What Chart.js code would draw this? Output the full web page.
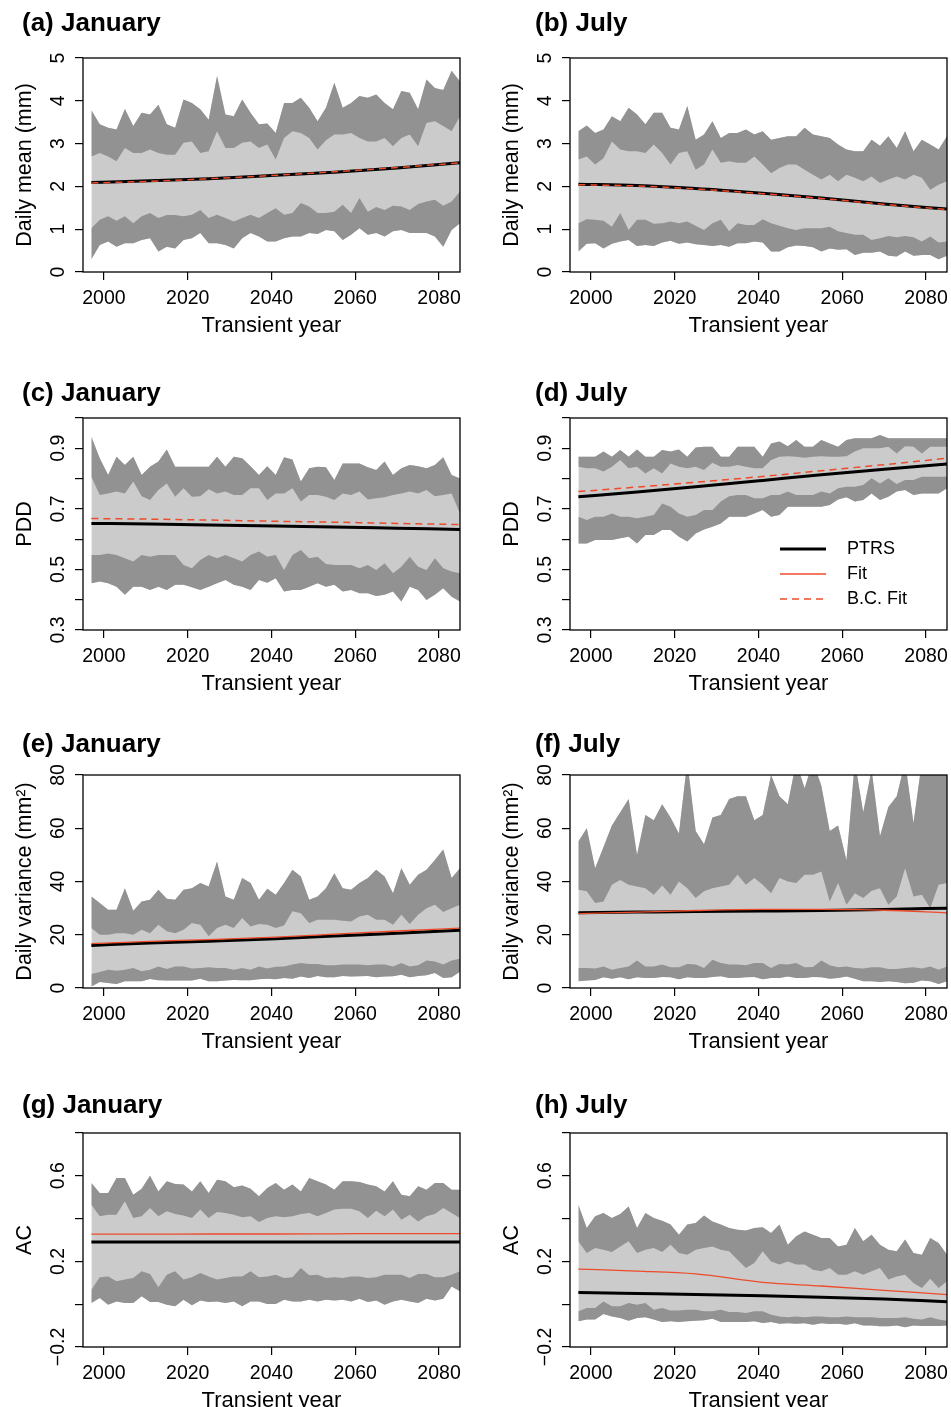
<!DOCTYPE html>
<html lang="en">
<head>
<meta charset="utf-8">
<title>PTRS transient statistics</title>
<script src="https://cdn.jsdelivr.net/npm/chart.js@4.4.1/dist/chart.umd.min.js"></script>
<style>
  html, body { margin: 0; padding: 0; background: #fff; overflow: hidden; }
  #figure { position: relative; width: 951px; height: 1407px; }
  .panel { position: absolute; }
</style>
</head>
<body>
<div id="figure"></div>
<script>
// --- DATA ---
// band years (every second year) and the smooth-line years
const years = [1997, 1999, 2001, 2003, 2005, 2007, 2009, 2011, 2013, 2015, 2017, 2019, 2021, 2023, 2025,
    2027, 2029, 2031, 2033, 2035, 2037, 2039, 2041, 2043, 2045, 2047, 2049, 2051, 2053, 2055,
    2057, 2059, 2061, 2063, 2065, 2067, 2069, 2071, 2073, 2075, 2077, 2079, 2081, 2083, 2085];
const lineYears = [1997, 2011, 2025, 2041, 2055, 2070, 2085];
const xTicks = [2000, 2020, 2040, 2060, 2080];

// y ticks (an empty label = tick mark without text)
const meanTicks = [0, 1, 2, 3, 4, 5];
const meanTickLabels = ['0', '1', '2', '3', '4', '5'];
const pddTicks = [0.3, 0.4, 0.5, 0.6, 0.7, 0.8, 0.9, 1.0];
const pddTickLabels = ['0.3', '', '0.5', '', '0.7', '', '0.9', ''];
const varTicks = [0, 20, 40, 60, 80];
const varTickLabels = ['0', '20', '40', '60', '80'];
const acTicks = [-0.2, 0, 0.2, 0.4, 0.6, 0.8];
const acTickLabels = ['\u22120.2', '', '0.2', '', '0.6', ''];

const legendLabels = ['PTRS', 'Fit', 'B.C. Fit'];

// (a) daily mean, January : upper band top/bottom, lower band top/bottom
const meanJanUpHi = [3.78,3.45,3.37,3.33,3.81,3.41,3.72,3.68,3.91,3.45,3.37,4.03,3.95,3.80,3.56,4.58,3.68,3.64,4.03,3.72,3.45,3.47,3.25,3.95,3.95,4.07,3.84,3.52,3.84,4.42,3.84,3.95,4.11,4.07,4.15,3.95,3.80,4.23,4.19,3.80,4.50,4.30,4.25,4.70,4.45];
const meanJanUpLo = [2.70,2.78,2.70,2.59,2.90,2.78,2.78,2.86,2.78,2.74,2.74,3.02,3.05,2.78,2.82,3.29,2.90,2.90,3.02,3.05,2.90,2.98,2.63,3.13,3.29,3.25,3.13,2.86,3.08,3.21,3.21,3.25,3.13,3.05,3.05,3.13,2.94,3.13,3.21,2.94,3.48,3.52,3.41,3.29,3.64];
const meanJanLoHi = [1.02,1.22,1.30,1.20,1.30,1.14,1.30,1.38,1.26,1.33,1.33,1.30,1.34,1.45,1.26,1.34,1.26,1.18,1.26,1.34,1.26,1.38,1.49,1.34,1.38,1.61,1.53,1.38,1.38,1.41,1.57,1.38,1.73,1.41,1.52,1.45,1.55,1.53,1.45,1.59,1.65,1.69,1.55,1.65,1.88];
const meanJanLoLo = [0.30,0.63,0.71,0.59,0.67,0.67,0.75,0.79,0.48,0.59,0.55,0.75,0.79,0.91,0.67,0.67,0.63,0.55,0.79,0.91,0.83,0.71,0.71,0.79,0.83,0.83,0.91,0.89,0.98,0.95,0.75,0.87,1.02,0.87,0.91,0.83,0.95,0.98,0.91,0.91,0.91,0.83,0.59,0.98,1.14];
const meanJanPtrs = [2.09, 2.13, 2.18, 2.26, 2.33, 2.43, 2.55];
const meanJanBcFit = [2.08, 2.12, 2.18, 2.26, 2.34, 2.44, 2.55];

// (b) daily mean, July
const meanJulUpHi = [3.29,3.42,3.25,3.33,3.64,3.52,3.84,3.68,3.45,3.72,3.72,3.37,3.33,3.88,3.09,3.21,3.52,3.13,3.25,3.25,3.33,3.21,3.29,3.09,3.13,3.17,3.17,3.37,3.21,3.17,3.13,2.98,2.86,2.82,2.82,3.09,2.95,3.17,2.90,3.29,2.82,3.09,2.98,2.86,3.17];
const meanJulUpLo = [2.63,2.70,2.51,2.66,3.05,2.86,2.82,2.82,2.78,2.98,2.78,2.51,2.78,2.82,2.39,2.51,2.86,2.55,2.59,2.55,2.55,2.70,2.51,2.31,2.43,2.51,2.51,2.39,2.27,2.16,2.27,2.12,2.27,2.20,2.12,2.23,2.08,2.16,2.23,2.16,2.27,2.20,1.92,2.04,2.12];
const meanJulLoHi = [1.14,1.23,1.22,1.20,1.06,1.38,0.98,1.22,1.22,1.13,1.14,1.18,1.14,1.18,1.08,0.98,1.14,1.22,0.95,1.14,1.10,1.10,1.23,1.14,1.08,1.02,0.98,1.02,1.02,1.02,1.06,0.95,0.91,0.87,0.87,0.75,0.79,0.84,0.81,0.84,0.81,0.71,0.83,0.69,0.71];
const meanJulLoLo = [0.48,0.66,0.67,0.55,0.66,0.71,0.75,0.61,0.63,0.61,0.69,0.73,0.66,0.69,0.65,0.63,0.61,0.63,0.59,0.67,0.67,0.71,0.69,0.48,0.48,0.58,0.62,0.61,0.58,0.48,0.55,0.52,0.53,0.40,0.45,0.45,0.48,0.38,0.36,0.48,0.38,0.40,0.40,0.30,0.38];
const meanJulPtrs = [2.05, 2.02, 1.95, 1.84, 1.73, 1.59, 1.47];
const meanJulBcFit = [2.04, 2.01, 1.94, 1.83, 1.72, 1.58, 1.46];

// (c) PDD, January
const pddJanUpHi = [0.938,0.867,0.812,0.872,0.845,0.872,0.812,0.839,0.856,0.896,0.839,0.839,0.839,0.839,0.839,0.872,0.839,0.872,0.867,0.841,0.812,0.841,0.812,0.870,0.863,0.790,0.834,0.839,0.837,0.795,0.850,0.850,0.850,0.837,0.828,0.856,0.812,0.834,0.845,0.841,0.834,0.845,0.870,0.812,0.800];
const pddJanUpLo = [0.806,0.746,0.751,0.757,0.751,0.790,0.742,0.729,0.762,0.784,0.740,0.768,0.740,0.742,0.765,0.751,0.757,0.746,0.746,0.768,0.768,0.729,0.751,0.751,0.768,0.724,0.746,0.746,0.740,0.729,0.751,0.746,0.757,0.731,0.735,0.738,0.746,0.751,0.757,0.751,0.762,0.742,0.746,0.751,0.685];
const pddJanLoHi = [0.548,0.548,0.553,0.548,0.537,0.526,0.548,0.542,0.548,0.548,0.548,0.515,0.504,0.531,0.548,0.537,0.548,0.537,0.526,0.548,0.559,0.542,0.548,0.498,0.548,0.564,0.537,0.542,0.518,0.515,0.515,0.515,0.504,0.515,0.498,0.520,0.487,0.509,0.542,0.509,0.498,0.537,0.504,0.493,0.487];
const pddJanLoLo = [0.454,0.460,0.454,0.443,0.416,0.443,0.443,0.432,0.443,0.432,0.449,0.449,0.441,0.432,0.443,0.454,0.465,0.449,0.443,0.432,0.465,0.456,0.471,0.427,0.432,0.432,0.443,0.454,0.443,0.449,0.427,0.432,0.421,0.421,0.412,0.416,0.427,0.394,0.443,0.432,0.399,0.416,0.438,0.410,0.394];
const pddJanPtrs = [0.652, 0.650, 0.647, 0.643, 0.640, 0.636, 0.632];
const pddJanBcFit = [0.668, 0.666, 0.663, 0.659, 0.656, 0.652, 0.648];

// (d) PDD, July
const pddJulUpHi = [0.872,0.872,0.872,0.889,0.872,0.894,0.872,0.896,0.872,0.872,0.894,0.889,0.896,0.872,0.903,0.905,0.905,0.872,0.872,0.905,0.905,0.905,0.872,0.916,0.922,0.907,0.927,0.905,0.905,0.927,0.916,0.905,0.927,0.933,0.933,0.933,0.944,0.933,0.933,0.933,0.933,0.933,0.933,0.933,0.933];
const pddJulUpLo = [0.839,0.834,0.834,0.823,0.839,0.861,0.834,0.839,0.817,0.834,0.817,0.850,0.839,0.834,0.839,0.828,0.852,0.839,0.839,0.845,0.839,0.834,0.834,0.861,0.872,0.874,0.872,0.869,0.872,0.874,0.872,0.872,0.874,0.889,0.900,0.900,0.900,0.905,0.883,0.907,0.905,0.883,0.905,0.905,0.905];
const pddJulLoHi = [0.674,0.663,0.674,0.674,0.685,0.674,0.674,0.669,0.674,0.680,0.718,0.707,0.685,0.674,0.680,0.696,0.696,0.724,0.742,0.746,0.746,0.735,0.735,0.746,0.746,0.757,0.746,0.746,0.746,0.757,0.751,0.768,0.773,0.773,0.779,0.801,0.784,0.801,0.782,0.795,0.795,0.806,0.806,0.806,0.806];
const pddJulLoLo = [0.586,0.586,0.597,0.597,0.597,0.603,0.608,0.586,0.614,0.614,0.630,0.630,0.608,0.592,0.619,0.632,0.641,0.652,0.674,0.674,0.674,0.685,0.696,0.674,0.680,0.707,0.707,0.707,0.707,0.707,0.713,0.731,0.738,0.724,0.729,0.751,0.729,0.740,0.757,0.762,0.746,0.751,0.751,0.751,0.768];
const pddJulPtrs = [0.740, 0.756, 0.773, 0.794, 0.813, 0.831, 0.848];
const pddJulBcFit = [0.757, 0.772, 0.788, 0.807, 0.826, 0.846, 0.867];

// (e) daily variance, January
const varJanUpHi = [34.4,31.9,29.4,29.4,37.5,29.0,32.5,33.1,36.9,33.5,33.1,36.9,37.5,39.4,38.1,47.5,34.4,33.1,41.3,39.4,33.1,37.3,35.0,39.4,44.4,41.9,33.1,34.4,37.5,43.1,37.5,36.9,39.4,41.3,44.4,41.9,35.6,45.0,38.8,42.5,44.4,48.1,52.0,41.3,45.0];
const varJanUpLo = [22.5,20.0,20.0,20.6,20.6,20.0,21.9,20.6,23.8,21.3,20.6,21.9,24.4,23.8,19.4,22.5,23.8,22.5,26.3,23.1,24.0,23.8,22.5,23.5,28.8,28.1,24.4,25.6,25.6,25.6,25.3,25.0,26.9,27.5,25.6,25.6,23.8,27.5,24.0,27.5,30.0,31.3,28.5,30.0,31.3];
const varJanLoHi = [5.3,6.0,6.9,6.5,6.9,7.5,6.3,6.9,8.1,7.1,8.1,8.1,7.3,7.5,7.8,7.5,7.5,6.9,7.5,6.9,8.1,7.3,8.0,8.1,8.8,9.4,9.0,9.0,8.5,8.5,8.8,8.8,8.8,8.5,8.8,8.8,8.1,9.4,8.1,8.5,10.3,10.0,8.8,10.3,11.0];
const varJanLoLo = [0.6,2.3,1.9,1.5,2.5,2.5,2.5,3.4,2.9,2.8,2.8,2.8,2.8,3.5,2.5,2.5,2.8,3.0,2.9,2.9,3.3,3.5,3.3,3.8,3.5,4.3,3.8,4.5,4.0,4.0,4.5,4.3,4.4,4.5,4.0,4.3,4.4,5.0,4.0,4.5,4.8,5.6,3.8,4.0,6.1];
const varJanPtrs = [16.0, 16.9, 17.6, 18.5, 19.5, 20.6, 21.7];
const varJanFit = [16.7, 17.5, 18.2, 19.1, 20.2, 21.4, 22.5];

// (f) daily variance, July (values above 80 run off the top of the frame)
const varJulUpHi = [55,60,45,53,61,66,71,50,65,63,69,64,58,85,59,54,64,65,71,72,72,63,65,80,72,69,85,75,85,76,59,61,48,85,66,82,57,68,72,85,62,85,80,85,85];
const varJulUpLo = [36.9,36.3,31.9,32.5,38.8,40.6,38.8,38.1,37.5,35.0,38.5,35.0,40.0,37.5,33.8,36.3,37.5,38.1,38.8,42.5,38.8,41.3,38.8,35.6,41.3,40.0,39.4,42.5,42.5,43.8,32.5,39.4,31.3,35.6,33.8,36.5,37.5,31.3,34.4,45.0,34.4,35.0,30.0,38.8,39.4];
const varJulLoHi = [7.5,7.5,7.3,8.1,6.9,7.5,8.1,10.3,8.1,8.1,8.8,7.8,7.8,9.0,8.8,7.5,10.6,9.4,8.8,8.8,8.5,9.4,9.4,7.5,9.0,8.8,9.4,7.8,7.9,10.3,8.5,7.8,8.1,7.5,7.3,7.8,7.8,7.1,7.1,7.5,7.8,7.3,8.1,6.9,8.1];
const varJulLoLo = [2.5,2.8,3.0,4.0,3.5,4.0,3.3,4.0,3.8,3.8,4.1,4.0,3.3,4.0,3.8,3.8,4.1,4.4,3.8,3.8,4.0,4.1,3.3,3.8,3.8,4.3,3.8,3.8,4.1,4.0,3.5,3.8,4.3,3.5,2.5,2.5,2.3,2.5,2.3,1.8,2.0,2.8,2.5,1.5,2.5];
const varJulPtrs = [28.3, 28.5, 28.7, 28.9, 29.1, 29.5, 30.0];
const varJulFit = [27.9, 28.5, 29.1, 29.5, 29.5, 29.2, 28.2];

// (g) autocorrelation, January
const acJanUpHi = [0.566,0.520,0.520,0.590,0.590,0.512,0.540,0.600,0.527,0.574,0.562,0.559,0.527,0.574,0.520,0.582,0.574,0.546,0.555,0.540,0.504,0.543,0.566,0.535,0.559,0.527,0.590,0.574,0.559,0.535,0.574,0.574,0.571,0.559,0.551,0.527,0.574,0.512,0.504,0.551,0.535,0.566,0.566,0.535,0.535];
const acJanUpLo = [0.465,0.411,0.418,0.418,0.481,0.403,0.411,0.450,0.411,0.434,0.422,0.415,0.403,0.442,0.403,0.431,0.426,0.418,0.406,0.411,0.384,0.403,0.411,0.406,0.411,0.422,0.426,0.411,0.426,0.442,0.446,0.446,0.434,0.403,0.437,0.411,0.442,0.395,0.418,0.387,0.411,0.422,0.450,0.426,0.403];
const acJanLoHi = [0.068,0.126,0.130,0.107,0.115,0.122,0.154,0.141,0.079,0.138,0.154,0.115,0.126,0.146,0.130,0.115,0.122,0.130,0.130,0.154,0.126,0.130,0.138,0.122,0.126,0.169,0.135,0.138,0.122,0.126,0.122,0.130,0.130,0.122,0.126,0.138,0.138,0.138,0.122,0.141,0.141,0.126,0.126,0.138,0.154];
const acJanLoLo = [0.006,0.029,-0.002,0.013,0.006,0.006,0.037,0.010,0.010,-0.002,-0.010,0.021,-0.005,0.017,0.010,0.013,0.006,0.013,-0.010,0.013,0.013,0.001,0.001,0.021,0.013,0.013,0.021,0.013,0.021,0.017,0.021,0.013,0.025,0.010,0.017,-0.002,0.013,0.021,0.013,0.006,0.025,0.017,0.025,0.083,0.060];
const acJanPtrs = [0.291, 0.291, 0.291, 0.291, 0.291, 0.291, 0.291];
const acJanFit = [0.327, 0.327, 0.328, 0.328, 0.329, 0.330, 0.330];

// (h) autocorrelation, July
const acJulUpHi = [0.465,0.356,0.411,0.426,0.403,0.422,0.457,0.356,0.426,0.403,0.390,0.372,0.325,0.372,0.379,0.415,0.387,0.372,0.356,0.348,0.344,0.356,0.359,0.333,0.372,0.278,0.317,0.340,0.325,0.309,0.309,0.270,0.278,0.356,0.294,0.325,0.278,0.255,0.247,0.302,0.239,0.231,0.309,0.286,0.231];
const acJulUpLo = [0.294,0.239,0.263,0.255,0.244,0.270,0.294,0.239,0.255,0.263,0.244,0.278,0.239,0.231,0.255,0.263,0.270,0.255,0.247,0.208,0.169,0.193,0.247,0.200,0.185,0.200,0.185,0.185,0.161,0.154,0.169,0.138,0.138,0.154,0.138,0.154,0.169,0.115,0.130,0.138,0.099,0.076,0.119,0.076,0.107];
const acJulLoHi = [-0.033,-0.018,-0.018,0.013,-0.010,-0.010,0.006,-0.002,0.006,-0.026,-0.018,-0.030,-0.030,-0.026,-0.026,-0.033,-0.033,-0.026,-0.036,-0.036,-0.041,-0.033,-0.033,-0.049,-0.057,-0.061,-0.057,-0.061,-0.057,-0.057,-0.061,-0.061,-0.058,-0.061,-0.061,-0.061,-0.064,-0.064,-0.064,-0.061,-0.068,-0.072,-0.061,-0.072,-0.077];
const acJulLoLo = [-0.080,-0.072,-0.072,-0.046,-0.057,-0.064,-0.077,-0.064,-0.061,-0.072,-0.083,-0.080,-0.083,-0.080,-0.077,-0.075,-0.068,-0.083,-0.083,-0.083,-0.083,-0.080,-0.088,-0.083,-0.091,-0.089,-0.091,-0.089,-0.096,-0.089,-0.093,-0.091,-0.096,-0.089,-0.099,-0.099,-0.103,-0.103,-0.099,-0.108,-0.099,-0.102,-0.102,-0.102,-0.099];
const acJulPtrs = [0.055, 0.050, 0.045, 0.040, 0.033, 0.024, 0.012];
const acJulFit = [0.164, 0.155, 0.142, 0.102, 0.085, 0.065, 0.045];

// --- STYLE / LAYOUT ---
const DARK = '#929292';
const LIGHT = '#cbcbcb';
const RED = '#ee4b2b';
const FONT = '"Liberation Sans", Arial, Helvetica, sans-serif';

const colLefts = [0, 487];
const rowTops = [0, 360, 717, 1075];
const plotHeights = [214, 212, 213, 214];
const titleBaselines = [31, 41, 35, 38];
const titleLefts = [22, 48];
const CANVAS_W = 464;
const AXIS_W = 83;
const AXIS_H = 70;
const TOP_PAD = 58;

const legendStyles = [
    { color: '#000', width: 3, dash: [] },
    { color: RED, width: 1.3, dash: [] },
    { color: RED, width: 1.5, dash: [7, 5] }
];

Chart.defaults.font.family = FONT;
Chart.defaults.color = '#000';

const panels = [
    { title: '(a) January', yTitle: 'Daily mean (mm)', min: 0, max: 5, ticks: meanTicks, tickLabels: meanTickLabels,
      bands: [meanJanUpHi, meanJanUpLo, meanJanLoHi, meanJanLoLo], ptrs: meanJanPtrs, fit: meanJanBcFit, dashed: true },
    { title: '(b) July', yTitle: 'Daily mean (mm)', min: 0, max: 5, ticks: meanTicks, tickLabels: meanTickLabels,
      bands: [meanJulUpHi, meanJulUpLo, meanJulLoHi, meanJulLoLo], ptrs: meanJulPtrs, fit: meanJulBcFit, dashed: true },
    { title: '(c) January', yTitle: 'PDD', min: 0.3, max: 1.0, ticks: pddTicks, tickLabels: pddTickLabels,
      bands: [pddJanUpHi, pddJanUpLo, pddJanLoHi, pddJanLoLo], ptrs: pddJanPtrs, fit: pddJanBcFit, dashed: true },
    { title: '(d) July', yTitle: 'PDD', min: 0.3, max: 1.0, ticks: pddTicks, tickLabels: pddTickLabels,
      bands: [pddJulUpHi, pddJulUpLo, pddJulLoHi, pddJulLoLo], ptrs: pddJulPtrs, fit: pddJulBcFit, dashed: true, legend: true },
    { title: '(e) January', yTitle: 'Daily variance (mm\u00b2)', min: 0, max: 80, ticks: varTicks, tickLabels: varTickLabels,
      bands: [varJanUpHi, varJanUpLo, varJanLoHi, varJanLoLo], ptrs: varJanPtrs, fit: varJanFit, dashed: false },
    { title: '(f) July', yTitle: 'Daily variance (mm\u00b2)', min: 0, max: 80, ticks: varTicks, tickLabels: varTickLabels,
      bands: [varJulUpHi, varJulUpLo, varJulLoHi, varJulLoLo], ptrs: varJulPtrs, fit: varJulFit, dashed: false },
    { title: '(g) January', yTitle: 'AC', min: -0.2, max: 0.8, ticks: acTicks, tickLabels: acTickLabels,
      bands: [acJanUpHi, acJanUpLo, acJanLoHi, acJanLoLo], ptrs: acJanPtrs, fit: acJanFit, dashed: false },
    { title: '(h) July', yTitle: 'AC', min: -0.2, max: 0.8, ticks: acTicks, tickLabels: acTickLabels,
      bands: [acJulUpHi, acJulUpLo, acJulLoHi, acJulLoLo], ptrs: acJulPtrs, fit: acJulFit, dashed: false }
];

// --- PLUGIN: frame, rotated y labels, panel title, legend (R look) ---
const rFrame = {
    id: 'rFrame',
    afterDraw(chart, args, opts) {
        const { ctx, chartArea: a } = chart;
        const y = chart.scales.y;
        ctx.save();

        // box round the plot region
        ctx.strokeStyle = '#000';
        ctx.lineWidth = 1.3;
        ctx.strokeRect(a.left, a.top, a.right - a.left, a.bottom - a.top);

        // y tick labels, parallel to the axis
        ctx.fillStyle = '#000';
        ctx.font = '19.5px ' + FONT;
        ctx.textAlign = 'center';
        ctx.textBaseline = 'alphabetic';
        opts.ticks.forEach((v, i) => {
            const label = opts.tickLabels[i];
            if (!label) return;
            ctx.save();
            ctx.translate(a.left - 19, y.getPixelForValue(v));
            ctx.rotate(-Math.PI / 2);
            ctx.fillText(label, 0, 0);
            ctx.restore();
        });

        // panel title
        ctx.font = 'bold 26px ' + FONT;
        ctx.textAlign = 'left';
        ctx.fillText(opts.title, opts.titleX, opts.titleY);

        // legend inside panel (d)
        if (opts.legend) {
            ctx.font = '18px ' + FONT;
            ctx.textBaseline = 'middle';
            legendLabels.forEach((label, i) => {
                const st = legendStyles[i];
                const ly = a.top + 131 + i * 25;
                ctx.beginPath();
                ctx.setLineDash(st.dash);
                ctx.strokeStyle = st.color;
                ctx.lineWidth = st.width;
                ctx.moveTo(a.left + 210, ly);
                ctx.lineTo(a.left + 256, ly);
                ctx.stroke();
                ctx.setLineDash([]);
                ctx.fillText(label, a.left + 277, ly);
            });
        }
        ctx.restore();
    }
};

// --- BUILD ---
function toPoints(xs, ys) {
    return xs.map((x, i) => ({ x: x, y: ys[i] }));
}

function buildDatasets(p) {
    const hidden = { borderWidth: 0, borderColor: 'rgba(0,0,0,0)', pointRadius: 0 };
    const [upHi, upLo, loHi, loLo] = p.bands;
    return [
        // 0: upper band (dark) down to its lower edge
        Object.assign({ data: toPoints(years, upHi), fill: '+1', backgroundColor: DARK, order: 8 }, hidden),
        Object.assign({ data: toPoints(years, upLo), fill: false, order: 6 }, hidden),
        // 2: lower band (dark)
        Object.assign({ data: toPoints(years, loHi), fill: '+1', backgroundColor: DARK, order: 7 }, hidden),
        // 3: whole envelope in light grey, drawn first
        Object.assign({ data: toPoints(years, loLo), fill: '-3', backgroundColor: LIGHT, order: 9 }, hidden),
        { data: toPoints(lineYears, p.ptrs), borderColor: '#000', borderWidth: 3, pointRadius: 0,
          fill: false, cubicInterpolationMode: 'monotone', order: 1 },
        { data: toPoints(lineYears, p.fit), borderColor: RED, borderWidth: p.dashed ? 1.5 : 1.3,
          borderDash: p.dashed ? [7, 5] : [], pointRadius: 0, fill: false,
          cubicInterpolationMode: 'monotone', order: 0 }
    ];
}

const figure = document.getElementById('figure');

panels.forEach((p, i) => {
    const row = Math.floor(i / 2);
    const col = i % 2;

    const wrap = document.createElement('div');
    wrap.className = 'panel';
    wrap.style.left = colLefts[col] + 'px';
    wrap.style.top = rowTops[row] + 'px';
    const canvas = document.createElement('canvas');
    canvas.width = CANVAS_W;
    canvas.height = TOP_PAD + plotHeights[row] + AXIS_H;
    wrap.appendChild(canvas);
    figure.appendChild(wrap);

    const gridOpts = { drawOnChartArea: false, drawTicks: true, tickLength: 8, color: '#000', lineWidth: 1.2 };

    new Chart(canvas, {
        type: 'line',
        data: { datasets: buildDatasets(p) },
        plugins: [rFrame],
        options: {
            responsive: false,
            animation: false,
            events: [],
            layout: { padding: { top: TOP_PAD, right: CANVAS_W - AXIS_W - 377, left: 0, bottom: 0 } },
            plugins: {
                legend: { display: false },
                tooltip: { enabled: false },
                filler: { drawTime: 'beforeDatasetsDraw' },
                rFrame: {
                    ticks: p.ticks, tickLabels: p.tickLabels, title: p.title,
                    titleX: titleLefts[col], titleY: titleBaselines[row], legend: !!p.legend
                }
            },
            scales: {
                x: {
                    type: 'linear', min: 1995, max: 2085,
                    afterBuildTicks: s => { s.ticks = xTicks.map(v => ({ value: v })); },
                    afterFit: s => { s.height = AXIS_H; s.paddingLeft = 0; s.paddingRight = 0; },
                    grid: gridOpts,
                    border: { display: false },
                    ticks: { font: { size: 19.5 }, color: '#000', padding: 7, maxRotation: 0, autoSkip: false,
                             callback: v => String(v) },
                    title: { display: true, text: 'Transient year', font: { size: 22 }, color: '#000',
                             padding: { top: 0, bottom: 3 } }
                },
                y: {
                    type: 'linear', min: p.min, max: p.max,
                    afterBuildTicks: s => { s.ticks = p.ticks.map(v => ({ value: v })); },
                    afterFit: s => { s.width = AXIS_W; s.paddingTop = 0; s.paddingBottom = 0; },
                    grid: gridOpts,
                    border: { display: false },
                    ticks: { display: false },
                    title: { display: true, text: p.yTitle, font: { size: 21.5 }, color: '#000',
                             padding: { top: 12, bottom: 0 } }
                }
            }
        }
    });
});
</script>
</body>
</html>
